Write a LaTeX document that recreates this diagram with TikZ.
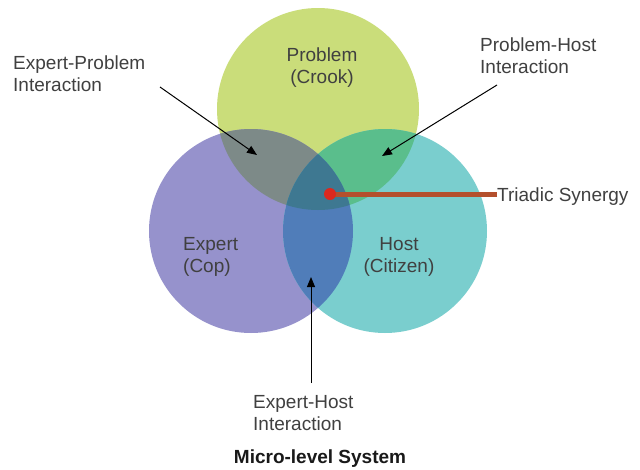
\documentclass[tikz,border=0pt]{standalone}
\usepackage{fontspec}
\setmainfont{Liberation Sans}
\usetikzlibrary{arrows.meta}
\definecolor{cProb}{RGB}{202,221,122}
\definecolor{cExp}{RGB}{150,146,204}
\definecolor{cHost}{RGB}{122,206,206}
\definecolor{cEP}{RGB}{125,138,136}
\definecolor{cPH}{RGB}{90,190,140}
\definecolor{cEH}{RGB}{80,125,185}
\definecolor{cAll}{RGB}{62,120,145}
\definecolor{cLine}{RGB}{180,80,45}
\definecolor{cDot}{RGB}{220,40,30}
\definecolor{textgray}{RGB}{64,64,64}
\begin{document}
\begin{tikzpicture}[x=1pt,y=-1pt,
  lbl/.style={inner sep=0pt, text=textgray, font=\fontsize{19}{22}\selectfont, align=left, anchor=base west},
  ptr/.style={draw=black, line width=1pt, -{Triangle[length=10pt,width=8pt]}},
  synline/.style={draw=cLine, line width=5pt}]
\useasboundingbox[fill=white] (0,0) rectangle (640,469);
\coordinate (cP) at (318,109);
\coordinate (cE) at (251,231);
\coordinate (cH) at (385,231);
% base circles
\fill[cProb] (cP) circle[radius=101pt];
\fill[cExp] (cE) circle[radius=102pt];
\fill[cHost] (cH) circle[radius=102pt];
% pairwise overlaps
\begin{scope}
  \clip (cE) circle[radius=102pt];
  \fill[cEP] (cP) circle[radius=101pt];
\end{scope}
\begin{scope}
  \clip (cH) circle[radius=102pt];
  \fill[cPH] (cP) circle[radius=101pt];
\end{scope}
\begin{scope}
  \clip (cE) circle[radius=102pt];
  \fill[cEH] (cH) circle[radius=102pt];
\end{scope}
% triple overlap
\begin{scope}
  \clip (cE) circle[radius=102pt];
  \clip (cH) circle[radius=102pt];
  \fill[cAll] (cP) circle[radius=101pt];
\end{scope}
% labels (base anchor = baseline of last line)
\node[lbl] (tEP) at (13,91) {Expert-Problem\\Interaction};
\node[lbl] (tPH) at (480,73) {Problem-Host\\Interaction};
\node[lbl, align=center, anchor=base] (tP) at (322,83) {Problem\\(Crook)};
\node[lbl] (tE) at (183,272) {Expert\\(Cop)};
\node[lbl, align=center, anchor=base] (tH) at (399,272) {Host\\(Citizen)};
\node[lbl] (tEH) at (253,430) {Expert-Host\\Interaction};
\node[lbl] (tTS) at (497,201) {Triadic Synergy};
\node[lbl, anchor=base, text=black!90, font=\fontsize{19}{22}\selectfont\bfseries] (tM) at (320,463) {Micro-level System};
% pointers
\coordinate (aEPs) at (160,87);
\coordinate (aEPt) at (257,155);
\coordinate (aPHs) at (497,85);
\coordinate (aPHt) at (382,156);
\coordinate (aEHs) at (311,383);
\coordinate (aEHt) at (311,277);
\coordinate (tsDot) at (330,194);
\draw[ptr] (aEPs) -- (aEPt);
\draw[ptr] (aPHs) -- (aPHt);
\draw[ptr] (aEHs) -- (aEHt);
\draw[synline] (tsDot -| tTS.west) -- (tsDot);
\fill[cDot] (tsDot) circle[radius=6pt];
\end{tikzpicture}
\end{document}
